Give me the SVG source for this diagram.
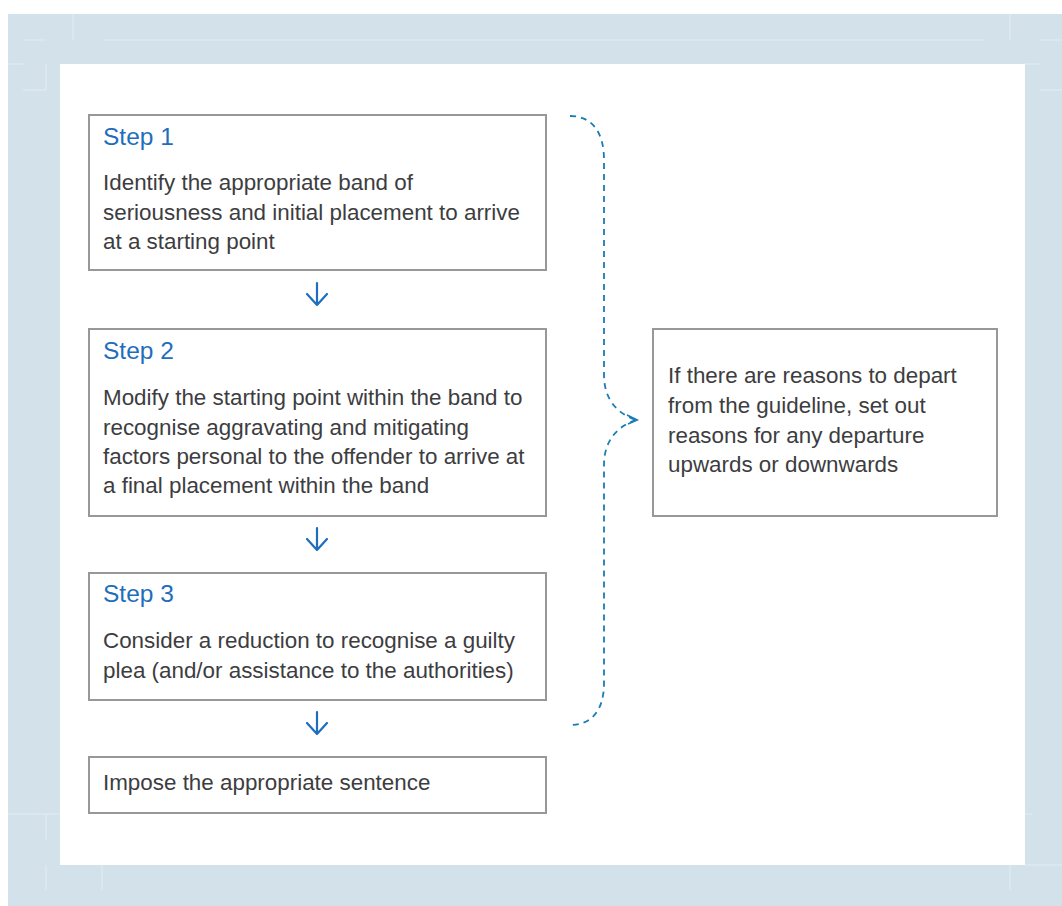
<svg xmlns="http://www.w3.org/2000/svg" width="1062" height="906" viewBox="0 0 1062 906">
<defs>
<style>
.box{fill:#fff;stroke:#98989b;stroke-width:2}
.title{font-family:"Liberation Sans",Arial,sans-serif;font-size:24.5px;fill:#1f6dbd}
.body{font-family:"Liberation Sans",Arial,sans-serif;font-size:22.4px;fill:#3d3d3f}
.arrow{fill:none;stroke:#1f6dbd;stroke-width:2.2;stroke-linecap:round;stroke-linejoin:round}
.brace{fill:none;stroke:#1a7cb4;stroke-width:1.8;stroke-dasharray:6 5}
.seam{stroke:#e2ecf1;stroke-width:1;fill:none}
</style>
</defs>
<rect x="0" y="0" width="1062" height="906" fill="#fff"/>
<rect x="8" y="14" width="1054" height="892" fill="#d3e2ea"/>
<g class="seam">
<path d="M8,64 H23 M23,40 H46 M73,14 V40 M103,40 H984 M1010,14 V40 M1040,40 H1062 M1025,64 H1040 M1040,90 H1062"/>
<path d="M46,64 V90 M46,90 H23 M8,814 H60 M46,814 V840 M1025,814 H1032"/>
<path d="M46,865 V890 M102,865 V890 M1010,865 V890 M1025,865 H1062"/>
</g>
<rect x="60" y="64" width="965" height="801" fill="#fff"/>
<g id="step1">
<rect class="box" x="89" y="115" width="457" height="155"/>
<text class="title" x="103" y="145">Step 1</text>
<text class="body" x="103" y="190">Identify the appropriate band of</text>
<text class="body" x="103" y="220">seriousness and initial placement to arrive</text>
<text class="body" x="103" y="249">at a starting point</text>
</g>
<g id="step2">
<rect class="box" x="89" y="329" width="457" height="187"/>
<text class="title" x="103" y="359">Step 2</text>
<text class="body" x="103" y="405">Modify the starting point within the band to</text>
<text class="body" x="103" y="435">recognise aggravating and mitigating</text>
<text class="body" x="103" y="464">factors personal to the offender to arrive at</text>
<text class="body" x="103" y="493">a final placement within the band</text>
</g>
<g id="step3">
<rect class="box" x="89" y="573" width="457" height="127"/>
<text class="title" x="103" y="602">Step 3</text>
<text class="body" x="103" y="648">Consider a reduction to recognise a guilty</text>
<text class="body" x="103" y="678">plea (and/or assistance to the authorities)</text>
</g>
<g id="sentence">
<rect class="box" x="89" y="757" width="457" height="56"/>
<text class="body" x="103" y="790">Impose the appropriate sentence</text>
</g>
<g id="departure">
<rect class="box" x="653" y="329" width="344" height="187"/>
<text class="body" x="668" y="383">If there are reasons to depart</text>
<text class="body" x="668" y="413">from the guideline, set out</text>
<text class="body" x="668" y="443">reasons for any departure</text>
<text class="body" x="668" y="472">upwards or downwards</text>
</g>
<g id="connectors">
<path class="arrow" d="M317,283 V305 M307,294 L317,305 L327,294"/>
<path class="arrow" d="M317,528 V550 M307,539 L317,550 L327,539"/>
<path class="arrow" d="M317,712 V734 M307,723 L317,734 L327,723"/>
<path class="brace" d="M570,116 C592,116 604,132 604,160 L604,375 C604,400 618,414 636,420"/>
<path class="brace" d="M636,420 C618,426 604,440 604,465 L604,683 C604,710 592,725 570,725"/>
<path d="M627,415 L637,420 L628,424" fill="none" stroke="#1a7cb4" stroke-width="1.8"/>
</g>
</svg>
